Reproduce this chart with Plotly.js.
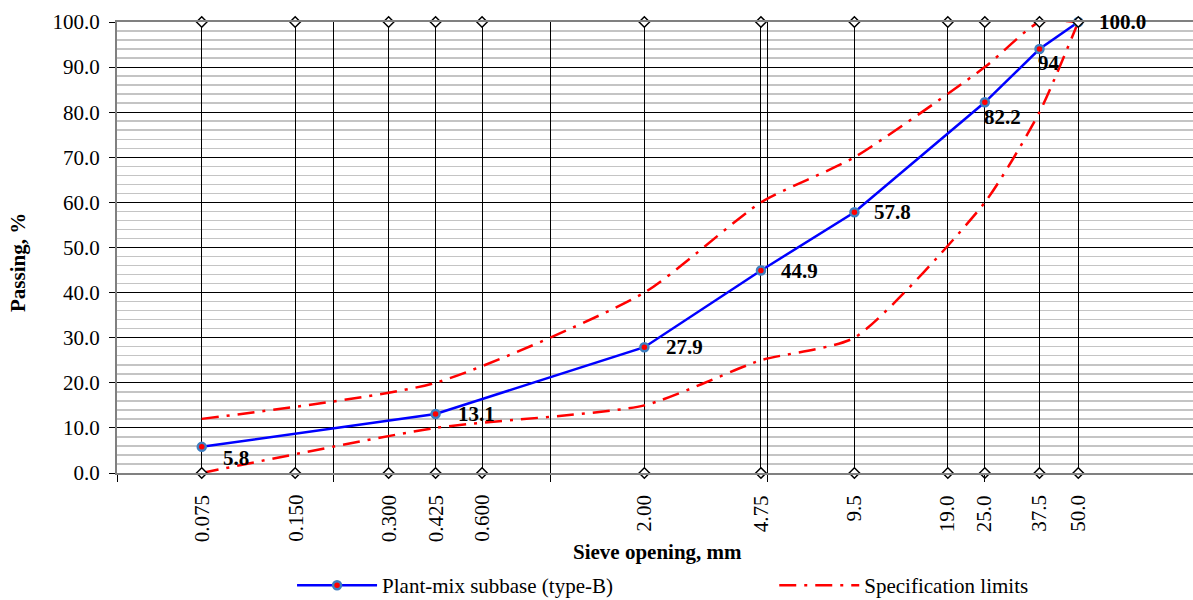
<!DOCTYPE html>
<html>
<head>
<meta charset="utf-8">
<script src="https://cdn.plot.ly/plotly-3.0.1.min.js"></script>
<style>html,body{margin:0;padding:0;background:#fff;}#chart{width:1193px;height:600px;}</style>
</head>
<body>
<div id="chart"></div>
<script>
// Sieve sizes (mm) and tick labels
const sieves = [0.075, 0.150, 0.300, 0.425, 0.600, 2.00, 4.75, 9.5, 19.0, 25.0, 37.5, 50.0];
const sieveLabels = ['0.075', '0.150', '0.300', '0.425', '0.600', '2.00', '4.75', '9.5', '19.0', '25.0', '37.5', '50.0'];
// Tested gradation
const testSieves = [0.075, 0.425, 2.00, 4.75, 9.5, 25.0, 37.5, 50.0];
const testPassing = [5.8, 13.1, 27.9, 44.9, 57.8, 82.2, 94, 100.0];
const testLabels = ['5.8', '13.1', '27.9', '44.9', '57.8', '82.2', '94', '100.0'];
// Specification limits
const specSieves = [0.075, 0.425, 2.00, 4.75, 9.5, 25.0, 37.5, 50.0];
const specUpper = [12, 20, 40, 60, 70, 90, 100, 100];
const specLower = [0, 10, 15, 25, 30, 60, 80, 100];
// Frame markers at bottom and top of each sieve line
const frameBottom = sieves.map(() => 0);
const frameTop = sieves.map(() => 100);
// Major log-axis ticks (Excel base-5 log axis from 0.04)
const majorLogTicks = [0.04, 0.2, 1, 5, 25];

// label placement (styling, px offsets)
const labelShiftX = [19, 20, 20, 18, 18, -3, -3, 19];
const labelShiftY = [-11, 0, 0, 0, 0, -15, -14, 0];

const FONT = 'Liberation Serif, Times New Roman, serif';
const FS = 21;
const RED_DASH = '17px,8px,3px,8px';

// measure text width so rotated tick labels can be top-aligned below the axis
const ctx = document.createElement('canvas').getContext('2d');
ctx.font = FS + 'px "Liberation Serif"';
const textW = t => ctx.measureText(t).width;

const traces = [
  {
    x: specSieves, y: specUpper, mode: 'lines', name: 'Specification limits',
    legend: 'legend2', legendgroup: 'spec',
    line: {color: '#ff0000', width: 2.5, dash: RED_DASH, shape: 'spline', smoothing: 0.6}
  },
  {
    x: specSieves, y: specLower, mode: 'lines', name: 'Specification limits',
    legend: 'legend2', legendgroup: 'spec', showlegend: false,
    line: {color: '#ff0000', width: 2.5, dash: RED_DASH, shape: 'spline', smoothing: 0.6}
  },
  {
    x: testSieves, y: testPassing, mode: 'lines+markers', name: 'Plant-mix subbase (type-B)',
    legend: 'legend',
    line: {color: '#0000ff', width: 2.5},
    marker: {color: '#ff0000', size: 8, line: {color: '#3f7fc0', width: 2.5}},
    cliponaxis: false
  },
  {
    x: sieves, y: frameBottom, mode: 'markers', showlegend: false, hoverinfo: 'skip',
    marker: {symbol: 'diamond', size: 8, color: '#ffffff', line: {color: '#000', width: 1.5}},
    cliponaxis: false
  },
  {
    x: sieves, y: frameTop, mode: 'markers', showlegend: false, hoverinfo: 'skip',
    marker: {symbol: 'diamond', size: 8, color: '#ffffff', line: {color: '#000', width: 1.5}},
    cliponaxis: false
  }
];

const annotations = testSieves.map((s, i) => ({
  x: Math.log10(s), y: testPassing[i], xref: 'x', yref: 'y',
  text: '<b>' + testLabels[i] + '</b>', showarrow: false,
  xanchor: 'left', yanchor: 'middle',
  xshift: labelShiftX[i], yshift: labelShiftY[i],
  font: {family: FONT, size: FS, color: '#000'}
}));
// sieve tick labels (rotated, top-aligned 22px under the axis)
sieves.forEach((s, i) => {
  annotations.push({
    x: Math.log10(s), xref: 'x', y: 0, yref: 'paper',
    text: sieveLabels[i], showarrow: false, textangle: -90,
    xanchor: 'center', yanchor: 'middle', yshift: -(22 + textW(sieveLabels[i]) / 2),
    font: {family: FONT, size: FS, color: '#000'}
  });
});
// axis titles
annotations.push({
  xref: 'paper', yref: 'paper', x: 0.502, y: -0.175, xanchor: 'center', yanchor: 'middle',
  text: '<b>Sieve opening, mm</b>', showarrow: false, font: {family: FONT, size: FS, color: '#000'}
});
annotations.push({
  xref: 'paper', yref: 'paper', x: 0, xshift: -99, y: 0.4656, xanchor: 'center', yanchor: 'middle',
  textangle: -90, text: '<b>Passing, %</b>', showarrow: false, font: {family: FONT, size: FS, color: '#000'}
});

const legendCommon = {
  orientation: 'h', xref: 'container', yref: 'container', yanchor: 'middle', y: 0.024, xanchor: 'left',
  itemwidth: 80, bgcolor: 'rgba(0,0,0,0)', borderwidth: 0,
  font: {family: FONT, size: FS, color: '#000'}
};

const layout = {
  width: 1193, height: 600,
  margin: {l: 117, r: 0, t: 22, b: 127},
  paper_bgcolor: '#fff', plot_bgcolor: '#fff',
  font: {family: FONT, size: FS, color: '#000'},
  showlegend: true,
  legend: Object.assign({}, legendCommon, {x: 0.2448}),
  legend2: Object.assign({}, legendCommon, {x: 0.6490}),
  annotations: annotations,
  xaxis: {
    type: 'log', automargin: false,
    range: [Math.log10(0.04), 2.0686],
    tickmode: 'array', tickvals: sieves.concat(majorLogTicks),
    showticklabels: false, ticks: '',
    showgrid: true, gridcolor: '#000', gridwidth: 1,
    minor: {tickmode: 'array', tickvals: majorLogTicks, ticks: 'outside', ticklen: 7, tickcolor: '#000', showgrid: false},
    showline: true, linecolor: '#808080', linewidth: 2, mirror: true,
    zeroline: false
  },
  yaxis: {
    automargin: false,
    range: [0, 100], dtick: 10, tick0: 0, tickformat: '.1f',
    ticks: 'outside', ticklen: 6, tickcolor: '#000', ticklabelstandoff: 5,
    showgrid: true, gridcolor: '#000', gridwidth: 1,
    minor: {dtick: 2, showgrid: true, gridcolor: '#c4c4c4', gridwidth: 1.5, griddash: 'solid'},
    showline: true, linecolor: '#808080', linewidth: 2,
    zeroline: false,
    tickfont: {family: FONT, size: FS, color: '#000'}
  }
};

Plotly.newPlot('chart', traces, layout, {displayModeBar: false, staticPlot: true});
</script>
</body>
</html>
